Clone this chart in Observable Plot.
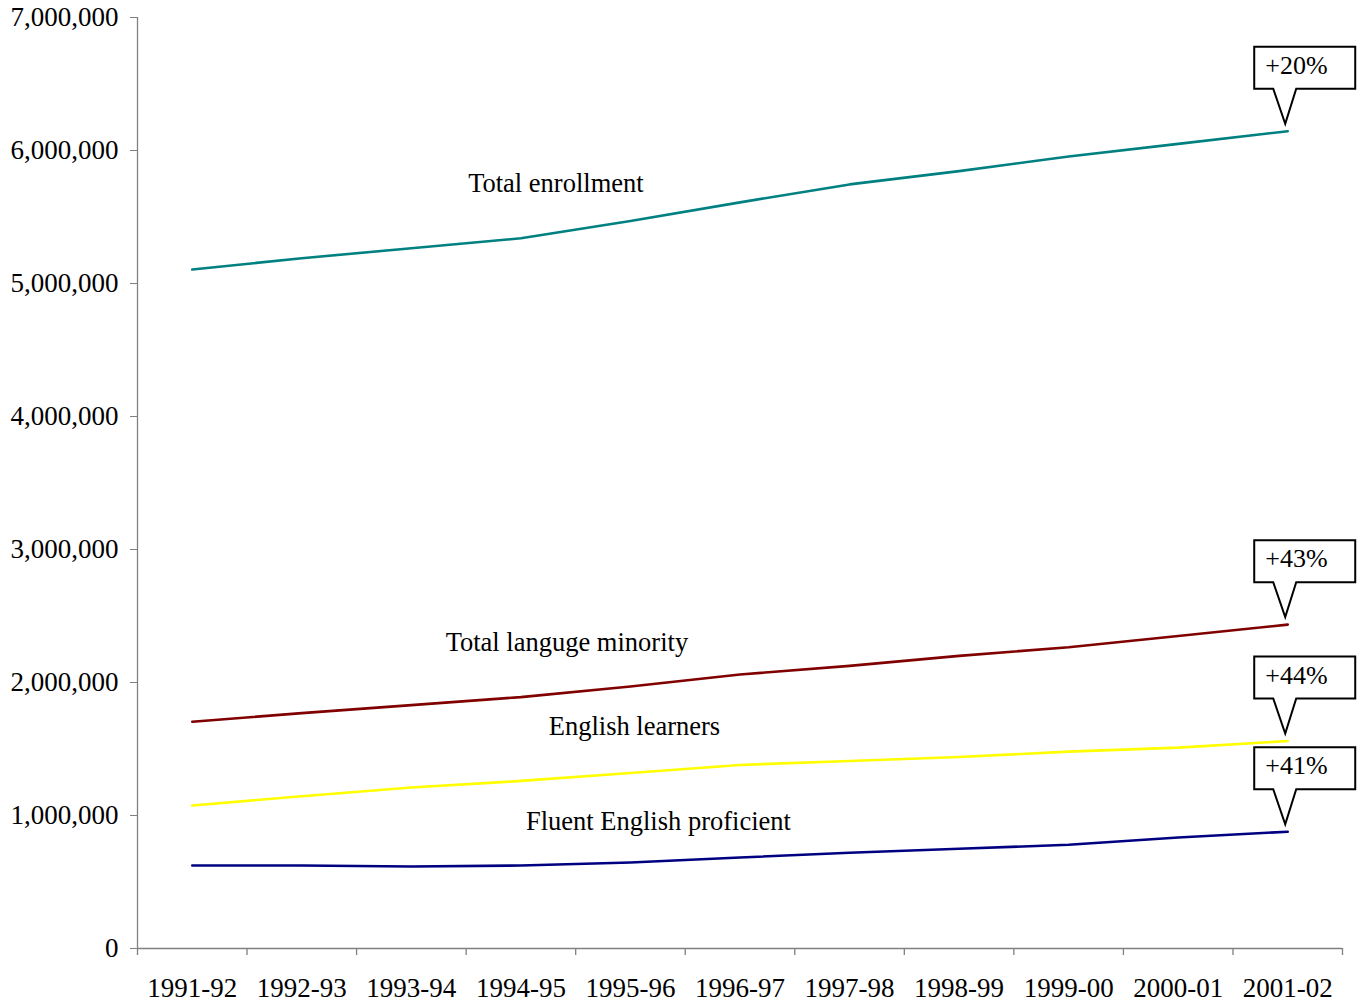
<!DOCTYPE html>
<html>
<head>
<meta charset="utf-8">
<script src="https://cdn.jsdelivr.net/npm/d3@7"></script>
<script src="https://cdn.jsdelivr.net/npm/@observablehq/plot@0.6"></script>
<style>
  html, body { margin: 0; padding: 0; background: white; }
</style>
</head>
<body>
<div id="chart"></div>
<script>
const years = ["1991-92","1992-93","1993-94","1994-95","1995-96","1996-97","1997-98","1998-99","1999-00","2000-01","2001-02"];
const totalEnrollment = [5105000,5190000,5265000,5340000,5470000,5610000,5745000,5845000,5955000,6050000,6145000];
const languageMinority = [1705000,1770000,1830000,1890000,1970000,2060000,2125000,2200000,2265000,2350000,2435000];
const englishLearners = [1075000,1145000,1210000,1260000,1320000,1380000,1410000,1440000,1480000,1510000,1560000];
const fluentEnglish = [624000,624000,617000,624000,647000,684000,720000,750000,780000,835000,878000];
const seriesNames = ["Total enrollment","Total languge minority","English learners","Fluent English proficient"];
const seriesColors = ["#008080","#800000","#FFFF00","#000080"];
const growthLabels = ["+20%","+43%","+44%","+41%"];
const yTicks = [0,1000000,2000000,3000000,4000000,5000000,6000000,7000000];
// series label anchors (category + value)
const labelYears = ["1994-95","1994-95","1995-96","1995-96"];
const labelValues = [5752000,2300000,1669000,955000];
const labelShift = [35,46,4,28];

const seriesValues = [totalEnrollment, languageMinority, englishLearners, fluentEnglish];
const rows = seriesNames.flatMap((name, s) => years.map((yr, i) => ({series: name, year: yr, value: seriesValues[s][i]})));
const labelRows = seriesNames.map((name, s) => ({series: name, year: labelYears[s], value: labelValues[s], shift: labelShift[s]}));
const calloutRows = seriesNames.map((name, s) => ({label: growthLabels[s], year: years[years.length - 1], value: seriesValues[s][years.length - 1]}));

const W = 1362, H = 1002, mL = 137, mR = 20, mT = 17, mB = 54;
const half = (W - mL - mR) / years.length / 2;
const axisGray = "#808080";

function calloutMark(index, scales) {
  const g = d3.create("svg:g");
  for (const c of calloutRows) {
    const px = scales.x(c.year), py = scales.y(c.value);
    const tipX = px - 2, tipY = py - 7;
    const bottom = tipY - 35, top = bottom - 42;
    const left = px - 33, right = px + 68;
    const b1 = px - 14, b2 = px + 9;
    const path = `M${left},${top}H${right}V${bottom}H${b2}L${tipX},${tipY}L${b1},${bottom}H${left}Z`;
    g.append("path").attr("d", path).attr("fill", "white").attr("stroke", "black").attr("stroke-width", 2).attr("stroke-linejoin", "miter");
    g.append("text").attr("x", left + 11).attr("y", top + 27).attr("text-anchor", "start").attr("fill", "black").attr("font-size", 26).text(c.label);
  }
  return g.node();
}

const chart = Plot.plot({
  width: W, height: H,
  marginLeft: mL, marginRight: mR, marginTop: mT, marginBottom: mB,
  style: {fontFamily: "'Liberation Serif', 'Times New Roman', serif", fontSize: "27px", background: "white", color: "black"},
  x: {type: "point", domain: years, padding: 0.5, round: false, axis: null},
  y: {domain: [0, 7000000], axis: null},
  color: {domain: seriesNames, range: seriesColors},
  marks: [
    Plot.ruleY([0], {stroke: axisGray, strokeWidth: 1.3}),
    Plot.ruleX([years[0]], {dx: -half, stroke: axisGray, strokeWidth: 1.3}),
    Plot.ruleX(years, {x: d => d, y1: 0, y2: 0, insetBottom: -7, dx: -half, stroke: axisGray, strokeWidth: 1.3}),
    Plot.ruleX([years[years.length - 1]], {x: d => d, y1: 0, y2: 0, insetBottom: -7, dx: half, stroke: axisGray, strokeWidth: 1.3}),
    Plot.axisY({ticks: yTicks, tickFormat: d3.format(","), tickSize: 7, tickPadding: 12, stroke: axisGray, fill: "black", label: null}),
    Plot.axisX({tickSize: 0, tickPadding: 29, fill: "black", label: null}),
    Plot.line(rows, {x: "year", y: "value", z: "series", stroke: "series", strokeWidth: 2.6}),
    ...labelRows.map(r => Plot.text([r], {x: "year", y: "value", text: "series", dx: r.shift, fill: "black", fontSize: 26.5})),
    calloutMark
  ]
});
document.getElementById("chart").appendChild(chart);
</script>
</body>
</html>
